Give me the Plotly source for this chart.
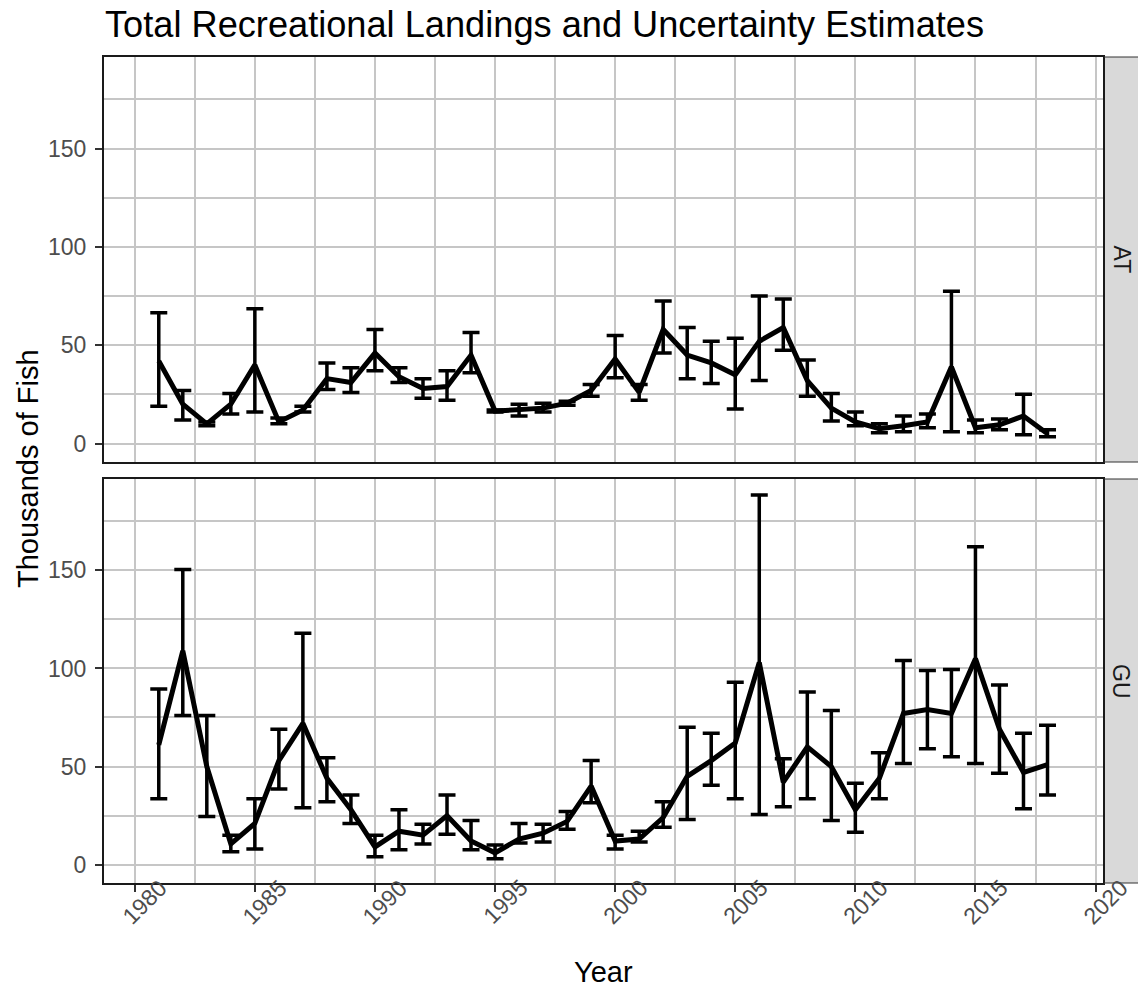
import plotly.graph_objects as go

years = list(range(1981, 2019))

at_value = [42, 20, 10, 20, 40, 11, 17, 33, 31, 46, 34, 28, 29, 45, 16.5, 17, 18, 20.5, 27, 43,
            26, 58, 45, 41, 35, 52, 59, 32, 18, 11, 7.5, 9, 11, 39, 8, 9.5, 14, 5]
at_upper = [66.5, 27, 11, 25.5, 68.5, 13, 19, 41, 38.5, 58, 38.5, 33, 37, 56.5, 17, 20, 20.5, 21.5, 30, 55,
            30, 72.5, 59, 52, 53.5, 75, 73.5, 42.5, 25.5, 16, 10, 14, 15, 77.5, 12, 12.5, 25, 7]
at_lower = [19, 12, 9, 15, 16, 10, 16, 27.5, 26, 37, 31, 23, 22, 36, 16, 14, 16, 19.5, 24, 33.5,
            22, 46, 33, 30.5, 17.5, 32, 47.5, 24, 11.5, 9, 5.5, 6, 8, 6, 5.5, 7, 4.5, 3.5]

gu_value = [61, 109, 50, 10.5, 21, 53, 72, 44, 28, 9, 17, 15, 25, 12, 6, 13, 16, 22, 40, 12,
            13, 24, 45, 53, 62, 103, 42, 60, 50, 28, 44, 77, 79, 77, 105, 69, 47, 51]
gu_upper = [89.5, 150.5, 76, 15, 33.5, 69, 118, 54.5, 35.5, 15, 28, 20.5, 35.5, 22.5, 10, 21, 20.5, 27, 53, 15,
            17, 32, 70, 67, 93, 188.5, 54, 88, 78.5, 41.5, 57, 104, 99, 99.5, 162, 91.5, 67, 71]
gu_lower = [33.5, 76, 24.5, 6.5, 8, 38.5, 29, 32, 21, 4, 7.5, 10.5, 15.5, 7.5, 3, 11, 11.5, 18, 31.5, 8,
            11.5, 19, 23, 40.5, 33.5, 25.5, 29.5, 33.5, 22.5, 16.5, 33.5, 51.5, 59, 55, 51.5, 46.5, 28.5, 35.5]

panels = ["AT", "GU"]
x_ticks = [1980, 1985, 1990, 1995, 2000, 2005, 2010, 2015, 2020]
x_labels = [str(v) for v in x_ticks]
y_ticks = [0, 50, 100, 150]

# The facet strips run past the right edge of the picture (as in the reference),
# so the figure is drawn a little wider than the 1138 px window and cropped there.
FIG_W, H = 1167, 988
px = lambda v: v / FIG_W
py = lambda v: (H - v) / H

x_dom = [px(104), px(1103)]
top_dom = [py(462), py(57)]
bot_dom = [py(883), py(479)]

fig = go.Figure()


def add_series(vals, up, lo, xa, ya):
    fig.add_trace(go.Scatter(
        x=years, y=vals, mode="lines", xaxis=xa, yaxis=ya,
        line=dict(color="black", width=5),
        error_y=dict(type="data", symmetric=False,
                     array=[u - v for u, v in zip(up, vals)],
                     arrayminus=[v - l for v, l in zip(vals, lo)],
                     color="black", thickness=3.5, width=8.5),
        showlegend=False, hoverinfo="skip"))


add_series(at_value, at_upper, at_lower, "x2", "y2")
add_series(gu_value, gu_upper, gu_lower, "x", "y")

FONT = "Liberation Sans, Arial, sans-serif"
grid = "#C6C6C6"
tickfont = dict(family=FONT, size=23, color="#4D4D4D")
common_x = dict(range=[1978.72, 2020.31], tickmode="array", tickvals=x_ticks,
                showgrid=True, gridcolor=grid, gridwidth=1.6,
                minor=dict(dtick=2.5, tick0=1980, showgrid=True, gridcolor=grid, gridwidth=1.6),
                showline=True, mirror=True, linecolor="#1A1A1A", linewidth=2,
                zeroline=False, domain=x_dom, showticklabels=False)
common_y = dict(range=[-9.4, 196.6], tickmode="array", tickvals=y_ticks,
                showgrid=True, gridcolor=grid, gridwidth=1.6,
                minor=dict(dtick=25, tick0=0, showgrid=True, gridcolor=grid, gridwidth=1.6),
                showline=True, mirror=True, linecolor="#1A1A1A", linewidth=2,
                zeroline=False, ticks="outside", ticklen=7, tickwidth=2, tickcolor="#333333",
                tickfont=tickfont, ticklabelstandoff=4)

fig.update_layout(
    width=FIG_W, height=H, autosize=False,
    margin=dict(l=0, r=0, t=0, b=0),
    paper_bgcolor="white", plot_bgcolor="white",
    xaxis=dict(**common_x, anchor="y", ticks="outside", ticklen=7, tickwidth=2, tickcolor="#333333"),
    yaxis=dict(**common_y, domain=bot_dom, anchor="x"),
    xaxis2=dict(**common_x, anchor="y2", ticks=""),
    yaxis2=dict(**common_y, domain=top_dom, anchor="x2"),
)

shapes = []
for dom in (top_dom, bot_dom):
    shapes.append(dict(type="rect", xref="paper", yref="paper",
                       x0=px(1104), x1=1.0, y0=dom[0], y1=dom[1],
                       fillcolor="#D9D9D9", line=dict(color="#D9D9D9", width=0), layer="below"))
    shapes.append(dict(type="line", xref="paper", yref="paper",
                       x0=px(1104), x1=1.0, y0=dom[0], y1=dom[0],
                       line=dict(color="#333333", width=1)))
    shapes.append(dict(type="line", xref="paper", yref="paper",
                       x0=px(1104), x1=1.0, y0=dom[1], y1=dom[1],
                       line=dict(color="#333333", width=1)))
fig.update_layout(shapes=shapes)

ann = []
for v, lab in zip(x_ticks, x_labels):
    ann.append(dict(text=lab, x=v, xref="x", y=py(902), yref="paper", xshift=10,
                    showarrow=False, textangle=-45, xanchor="center", yanchor="middle",
                    font=dict(family=FONT, size=23, color="#4D4D4D")))
for name, dom in zip(panels, (top_dom, bot_dom)):
    ann.append(dict(text=name, x=px(1121), y=(dom[0] + dom[1]) / 2, xref="paper", yref="paper",
                    showarrow=False, textangle=90, xanchor="center", yanchor="middle",
                    font=dict(family=FONT, size=23, color="#1A1A1A")))
ann.append(dict(text="Total Recreational Landings and Uncertainty Estimates", x=px(103), y=py(24),
                xref="paper", yref="paper", showarrow=False, xanchor="left", yanchor="middle",
                font=dict(family=FONT, size=36.2, color="black")))
ann.append(dict(text="Year", x=px(603), y=py(972), xref="paper", yref="paper", showarrow=False,
                xanchor="center", yanchor="middle",
                font=dict(family=FONT, size=29, color="black")))
ann.append(dict(text="Thousands of Fish", x=px(28), y=py(469), xref="paper", yref="paper",
                showarrow=False, textangle=-90, xanchor="center", yanchor="middle",
                font=dict(family=FONT, size=29, color="black")))
fig.update_layout(annotations=ann)

post = ("document.body.style.margin='0px';document.body.style.padding='0px';"
        "document.body.style.overflow='hidden';")

fig.write_html("out.html", config={"responsive": False, "displayModeBar": False}, post_script=post)
